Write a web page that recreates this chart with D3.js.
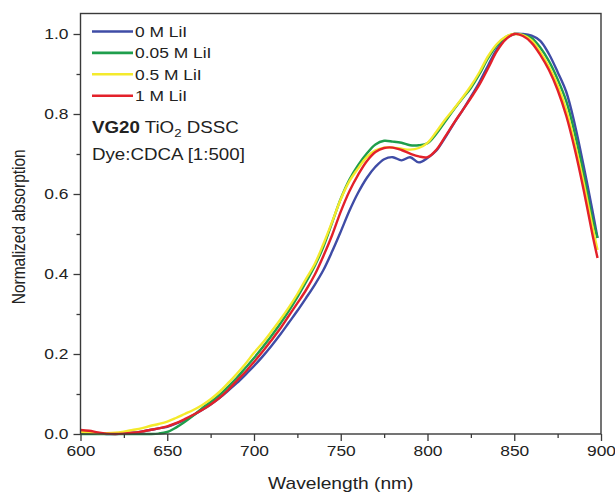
<!DOCTYPE html>
<html>
<head>
<meta charset="utf-8">
<script src="https://cdn.jsdelivr.net/npm/d3@7"></script>
<style>
  html, body { margin: 0; padding: 0; background: #fff; }
  svg { display: block; font-family: "Liberation Sans", Arial, sans-serif; }
</style>
</head>
<body>
<svg id="chart" width="615" height="496"></svg>
<script>
// ---- data ----
const wavelength = [600,605,610,615,620,625,630,635,640,645,650,655,660,665,670,675,680,685,690,695,700,705,710,715,720,725,730,735,740,745,750,755,760,765,770,775,780,785,790,795,800,805,810,815,820,825,830,835,840,845,850,855,860,865,870,875,880,885,890,895,898];

const seriesNames = ["0 M LiI", "0.05 M LiI", "0.5 M LiI", "1 M LiI"];
const seriesColors = ["#3f4ca6", "#1f9e4c", "#f4ea2c", "#e3212a"];

const abs0M = [0.006,0.004,0.002,0,0,0.001,0.003,0.006,0.01,0.014,0.018,0.026,0.035,0.047,0.06,0.074,0.09,0.108,0.127,0.148,0.17,0.194,0.22,0.248,0.278,0.308,0.34,0.373,0.41,0.456,0.506,0.558,0.603,0.64,0.668,0.687,0.692,0.684,0.692,0.679,0.69,0.708,0.74,0.775,0.808,0.843,0.88,0.922,0.962,0.988,1.0,1.0,0.996,0.983,0.95,0.905,0.855,0.772,0.67,0.56,0.49];

const abs005M = [0,0,0,0,0,0,0,0,0,0.001,0.005,0.016,0.03,0.046,0.064,0.08,0.097,0.118,0.14,0.165,0.19,0.217,0.245,0.275,0.307,0.342,0.38,0.42,0.468,0.528,0.588,0.636,0.672,0.701,0.724,0.733,0.731,0.728,0.722,0.722,0.727,0.75,0.78,0.81,0.838,0.865,0.9,0.94,0.972,0.992,1.0,0.998,0.99,0.966,0.932,0.887,0.832,0.75,0.65,0.54,0.49];

const abs05M = [0.005,0.004,0.002,0.002,0.003,0.006,0.01,0.014,0.02,0.025,0.031,0.04,0.05,0.06,0.072,0.087,0.105,0.127,0.15,0.175,0.203,0.228,0.256,0.285,0.316,0.35,0.388,0.425,0.475,0.53,0.587,0.632,0.664,0.692,0.709,0.716,0.716,0.713,0.711,0.715,0.728,0.755,0.785,0.812,0.84,0.87,0.905,0.945,0.975,0.993,1.0,0.997,0.984,0.955,0.918,0.872,0.81,0.724,0.628,0.52,0.46];

const abs1M = [0.01,0.008,0.004,0.001,0,0.001,0.003,0.006,0.01,0.014,0.019,0.027,0.037,0.048,0.06,0.074,0.09,0.11,0.133,0.155,0.18,0.206,0.234,0.263,0.295,0.327,0.36,0.398,0.445,0.497,0.556,0.607,0.648,0.682,0.705,0.715,0.716,0.71,0.701,0.694,0.692,0.71,0.742,0.776,0.808,0.84,0.874,0.915,0.957,0.986,1.0,0.995,0.978,0.948,0.91,0.86,0.795,0.71,0.61,0.5,0.44];

const seriesValues = [abs0M, abs005M, abs05M, abs1M];

const xMajorTicks = [600, 650, 700, 750, 800, 850, 900];
const xMinorTicks = [625, 675, 725, 775, 825, 875];
const yMajorTicks = [0.0, 0.2, 0.4, 0.6, 0.8, 1.0];
const yMinorTicks = [0.1, 0.3, 0.5, 0.7, 0.9];

// ---- layout ----
const svg = d3.select("#chart");
const L = 80.5, R = 601, T = 13.5, B = 434;
const x = d3.scaleLinear().domain([600, 900]).range([L, R]);
const y = d3.scaleLinear().domain([0, 1.0]).range([B, 34]);
const axisColor = "#3a3a3a";
const textColor = "#222";
const SX = 1.2; // horizontal stretch of the lettering in the original figure

// curves
const line = d3.line().x(d => x(d[0])).y(d => y(d[1])).curve(d3.curveCatmullRom.alpha(0.5));
svg.append("clipPath").attr("id", "plotclip")
  .append("rect").attr("x", L).attr("y", T).attr("width", R - L).attr("height", B - T + 2);
const plot = svg.append("g").attr("clip-path", "url(#plotclip)");
seriesValues.forEach((vals, i) => {
  plot.append("path")
    .datum(wavelength.map((w, j) => [w, vals[j]]))
    .attr("fill", "none")
    .attr("stroke", seriesColors[i])
    .attr("stroke-width", 2.4)
    .attr("stroke-linejoin", "round")
    .attr("d", line);
});

// axes
const xAxisMajor = d3.axisBottom(x).tickValues(xMajorTicks).tickSize(7).tickPadding(5).tickFormat(d3.format("d"));
const xAxisMinor = d3.axisBottom(x).tickValues(xMinorTicks).tickSize(4).tickFormat("");
const yAxisMajor = d3.axisLeft(y).tickValues(yMajorTicks).tickSize(7).tickPadding(3).tickFormat(d3.format(".1f"));
const yAxisMinor = d3.axisLeft(y).tickValues(yMinorTicks).tickSize(4).tickFormat("");

function styleAxis(g) {
  g.select(".domain").remove();
  g.selectAll("line").attr("stroke", axisColor).attr("stroke-width", 1.3);
  g.selectAll("text").attr("fill", textColor).attr("font-size", 14.5)
    .attr("font-family", "'Liberation Sans', Arial, sans-serif")
    .attr("transform", `scale(${SX},1)`);
}
svg.append("g").attr("transform", `translate(0,${B})`).call(xAxisMajor).call(styleAxis);
svg.append("g").attr("transform", `translate(0,${B})`).call(xAxisMinor).call(styleAxis);
svg.append("g").attr("transform", `translate(${L},0)`).call(yAxisMajor).call(styleAxis);
svg.append("g").attr("transform", `translate(${L},0)`).call(yAxisMinor).call(styleAxis);

// frame
svg.append("rect").attr("x", L).attr("y", T).attr("width", R - L).attr("height", B - T)
  .attr("fill", "none").attr("stroke", axisColor).attr("stroke-width", 1.4);

// helper for stretched text
function label(px, py, size, anchor) {
  return svg.append("g").attr("transform", `translate(${px},${py}) scale(${SX},1)`)
    .append("text").attr("font-size", size).attr("fill", textColor).attr("text-anchor", anchor || "start");
}

// axis titles
label((L + R) / 2, 489, 16, "middle").text("Wavelength (nm)");
svg.append("g").attr("transform", `translate(25,${(T + B) / 2 + 3}) scale(${SX},1) rotate(-90)`)
  .append("text").attr("text-anchor", "middle").attr("font-size", 15.5).attr("fill", textColor)
  .text("Normalized absorption");

// legend
const legY0 = 31.5, legDY = 21.4;
seriesNames.forEach((name, i) => {
  const yy = legY0 + i * legDY;
  svg.append("line").attr("x1", 92).attr("x2", 133).attr("y1", yy).attr("y2", yy)
    .attr("stroke", seriesColors[i]).attr("stroke-width", 2.6);
  label(135, yy + 5.2, 14.5).text(name);
});

// annotations
const t1 = label(92, 133, 15.6);
t1.append("tspan").attr("font-weight", "bold").text("VG20");
t1.append("tspan").text(" TiO");
t1.append("tspan").attr("font-size", 11).attr("dy", 4).text("2");
t1.append("tspan").attr("dy", -4).text(" DSSC");
label(92, 159.5, 15.6).text("Dye:CDCA [1:500]");
</script>
</body>
</html>
